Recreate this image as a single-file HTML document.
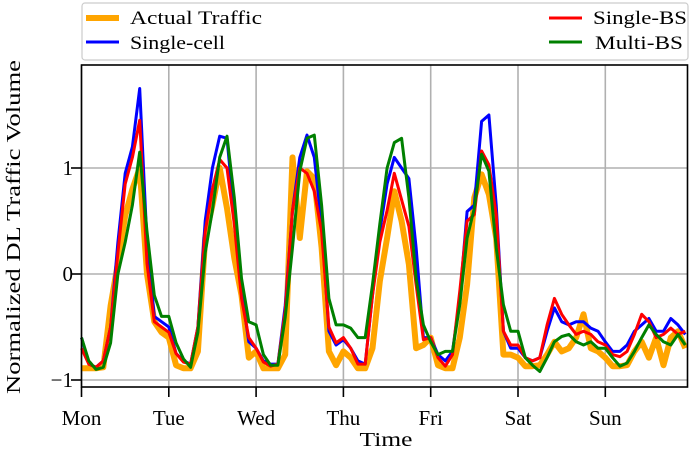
<!DOCTYPE html>
<html><head><meta charset="utf-8"><style>
html,body{margin:0;padding:0;background:#fff}
svg{display:block;font-family:"Liberation Serif",serif}
</style></head><body>
<svg id="chart" width="693" height="458" viewBox="0 0 693 458">
<g id="grid"></g>
<g id="series"></g>
<rect x="81.5" y="65" width="606" height="322" fill="none" stroke="#000" stroke-width="1.6"/>
<g id="axes"></g>
<text x="20" y="227" transform="rotate(-90 20 227)" text-anchor="middle" font-size="20" textLength="334" lengthAdjust="spacingAndGlyphs">Normalized DL Traffic Volume</text>
<text x="386" y="446" text-anchor="middle" font-size="20" textLength="53" lengthAdjust="spacingAndGlyphs">Time</text>
<g>
<rect x="82" y="3" width="606" height="57" rx="3" fill="#fff" stroke="#ccc" stroke-width="1.2"/>
<line x1="86" y1="18" x2="119" y2="18" stroke="#ffa500" stroke-width="6"/>
<text x="130" y="24" font-size="19" textLength="132" lengthAdjust="spacingAndGlyphs">Actual Traffic</text>
<line x1="86" y1="42" x2="119" y2="42" stroke="#0000ff" stroke-width="3"/>
<text x="130" y="49" font-size="19" textLength="95" lengthAdjust="spacingAndGlyphs">Single-cell</text>
<line x1="549" y1="18" x2="582" y2="18" stroke="#ff0000" stroke-width="3"/>
<text x="593" y="24" font-size="19" textLength="94" lengthAdjust="spacingAndGlyphs">Single-BS</text>
<line x1="549" y1="42" x2="582" y2="42" stroke="#008000" stroke-width="3"/>
<text x="595" y="49" font-size="19" textLength="88" lengthAdjust="spacingAndGlyphs">Multi-BS</text>
</g>
</svg>
<script>
const days = ["Mon","Tue","Wed","Thu","Fri","Sat","Sun"];
const yTicks = [1, 0, -1];
const yTickLabels = ["1", "0", "\u22121"];
const actual = [
-0.89,-0.89,-0.89,-0.88,-0.3,0.1,0.55,0.8,1.0,0.0,-0.45,-0.55,
-0.6,-0.86,-0.89,-0.89,-0.73,0.34,0.65,1.0,0.62,0.15,-0.2,-0.79,
-0.73,-0.89,-0.89,-0.89,-0.76,1.1,0.34,0.97,0.9,0.25,-0.73,-0.86,
-0.73,-0.79,-0.89,-0.89,-0.7,-0.07,0.34,0.78,0.5,0.09,-0.7,-0.67,
-0.6,-0.86,-0.89,-0.89,-0.6,-0.1,0.72,0.94,0.75,0.34,-0.76,-0.76,
-0.79,-0.87,-0.87,-0.86,-0.76,-0.64,-0.73,-0.7,-0.6,-0.38,-0.7,-0.73,
-0.79,-0.87,-0.87,-0.86,-0.73,-0.64,-0.79,-0.6,-0.86,-0.6,-0.54,-0.7];
const singleCell = [
-0.6,-0.85,-0.88,-0.82,-0.5,0.3,0.95,1.2,1.75,0.3,-0.4,-0.45,
-0.5,-0.75,-0.82,-0.85,-0.5,0.5,1.0,1.3,1.28,0.55,-0.16,-0.64,
-0.7,-0.82,-0.85,-0.85,-0.3,0.6,1.1,1.31,1.1,0.47,-0.54,-0.67,
-0.62,-0.7,-0.82,-0.85,-0.2,0.4,0.85,1.1,1.0,0.9,0.25,-0.6,
-0.6,-0.76,-0.82,-0.73,-0.23,0.59,0.65,1.44,1.5,0.65,-0.54,-0.7,
-0.7,-0.79,-0.82,-0.79,-0.54,-0.32,-0.45,-0.48,-0.45,-0.45,-0.51,-0.54,
-0.64,-0.73,-0.73,-0.67,-0.54,-0.48,-0.42,-0.54,-0.54,-0.42,-0.48,-0.57];
const singleBS = [
-0.7,-0.85,-0.88,-0.82,-0.5,0.2,0.85,1.1,1.45,0.1,-0.45,-0.5,
-0.55,-0.75,-0.83,-0.85,-0.5,0.4,0.8,1.08,1.0,0.47,-0.23,-0.6,
-0.7,-0.83,-0.87,-0.85,-0.35,0.6,1.0,0.95,0.78,0.4,-0.5,-0.65,
-0.6,-0.7,-0.85,-0.85,-0.2,0.3,0.6,0.95,0.7,0.45,-0.1,-0.62,
-0.6,-0.79,-0.87,-0.76,-0.16,0.5,0.56,1.16,1.03,0.56,-0.54,-0.67,
-0.67,-0.79,-0.82,-0.79,-0.48,-0.23,-0.38,-0.48,-0.57,-0.54,-0.57,-0.64,
-0.67,-0.76,-0.78,-0.73,-0.57,-0.38,-0.45,-0.6,-0.57,-0.51,-0.57,-0.54];
const multiBS = [
-0.6,-0.82,-0.9,-0.88,-0.65,0.0,0.3,0.65,1.15,0.4,-0.2,-0.4,
-0.4,-0.65,-0.8,-0.88,-0.55,0.2,0.6,1.1,1.3,0.72,-0.04,-0.45,
-0.48,-0.76,-0.86,-0.86,-0.41,0.25,0.97,1.28,1.31,0.65,-0.23,-0.48,
-0.48,-0.51,-0.6,-0.6,-0.1,0.47,1.0,1.24,1.28,0.72,-0.04,-0.48,
-0.64,-0.76,-0.73,-0.73,-0.29,0.34,0.62,1.13,0.97,0.25,-0.29,-0.54,
-0.54,-0.79,-0.86,-0.92,-0.79,-0.64,-0.59,-0.57,-0.64,-0.67,-0.64,-0.7,
-0.7,-0.79,-0.87,-0.84,-0.73,-0.6,-0.48,-0.57,-0.64,-0.67,-0.57,-0.67];

const NS = "http://www.w3.org/2000/svg";
const X0 = 81.5, DAYW = 87.3, PERDAY = 12;
function xScale(i){ return X0 + i * DAYW / PERDAY; }
function xDay(d){ return X0 + d * DAYW; }
function yScale(v){ return 274 - v * 106; }
function mk(tag, attrs, parent){
  const el = document.createElementNS(NS, tag);
  for (const k in attrs) el.setAttribute(k, attrs[k]);
  parent.appendChild(el);
  return el;
}
const grid = document.getElementById("grid");
const axes = document.getElementById("axes");
days.forEach((d, i) => {
  const x = xDay(i);
  const gl = mk("line", {x1:x, x2:x, y1:65, y2:387, stroke:"#b0b0b0", "stroke-width":1.6}, grid);
  
  
  const tk = mk("line", {x1:x, x2:x, y1:387, y2:397, stroke:"#000", "stroke-width":1.6}, axes);
  
  
  const t = mk("text", {x:x, y:425, "text-anchor":"middle", "font-size":21}, axes);
  t.textContent = d;
  
  
});
yTicks.forEach((v, i) => {
  const y = yScale(v);
  const gl = mk("line", {x1:81.5, x2:687.5, y1:y, y2:y, stroke:"#b0b0b0", "stroke-width":1.6}, grid);
  
  
  const tk = mk("line", {x1:71, x2:81.5, y1:y, y2:y, stroke:"#000", "stroke-width":1.6}, axes);
  
  
  const t = mk("text", {x:73, y:y+7, "text-anchor":"end", "font-size":21}, axes);
  t.textContent = yTickLabels[i];
  
  
});
const sg = document.getElementById("series");
function drawLine(vals, color, w, name){
  const pts = vals.map((v, i) => xScale(i).toFixed(1) + "," + yScale(v).toFixed(1)).join(" ");
  const pl = mk("polyline", {points:pts, fill:"none", stroke:color, "stroke-width":w, "stroke-linejoin":"round"}, sg);
  
  
}
drawLine(actual, "#ffa500", 6, "actual-traffic-line");
drawLine(singleCell, "#0000ff", 3, "single-cell-line");
drawLine(singleBS, "#ff0000", 3, "single-bs-line");
drawLine(multiBS, "#008000", 3, "multi-bs-line");
</script>
</body></html>
